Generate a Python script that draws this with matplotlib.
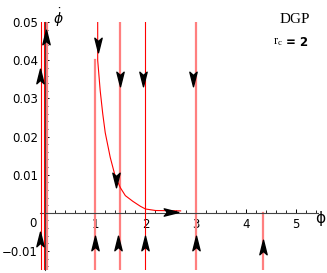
import numpy as np
import matplotlib.pyplot as plt
from matplotlib.path import Path

# vertical trajectories (x position, y start, y end)
pink_x = [0.04, 1.0, 1.5, 3.0, 4.33]
pink_top = [0.05, 0.040, 0.05, 0.05, 0.0]
red_x = [-0.08, -0.02, 2.0]
red_top = [0.05, 0.05, 0.05]
ybot = -0.015

# curved trajectory
curve_x = [1.05, 1.05, 1.1, 1.15, 1.2, 1.3, 1.4, 1.5, 1.6, 1.75, 1.9, 2.0, 2.2, 2.7]
curve_y = [0.05, 0.040, 0.032, 0.026, 0.021, 0.0145, 0.0095, 0.0066, 0.0045,
           0.003, 0.0017, 0.001, 0.0006, 0.0005]

# arrow heads
up_x = [-0.09, 0.02, -0.09, 1.0, 1.45, 2.0, 3.0, 4.33]
up_y = [0.036, 0.046, -0.007, -0.008, -0.008, -0.008, -0.008, -0.009]
down_x = [1.05, 1.5, 1.95, 2.95, 1.42]
down_y = [0.044, 0.035, 0.035, 0.035, 0.0085]
right_x = [2.5]
right_y = [0.0003]

xticks = [1, 2, 3, 4, 5]
yticks = [-0.01, 0.01, 0.02, 0.03, 0.04, 0.05]
yticklabels = ['\u22120.01', '0.01', '0.02', '0.03', '0.04', '0.05']

def head(angle):
    v = np.array([(0, 1), (-0.5, -1), (0, -0.55), (0.5, -1), (0, 1)])
    a = np.deg2rad(angle)
    r = np.array([[np.cos(a), -np.sin(a)], [np.sin(a), np.cos(a)]])
    return Path(v @ r.T, [1, 2, 2, 2, 79])

fig = plt.figure(figsize=(3.27, 2.73), dpi=100)
ax = fig.add_axes([0.122, 0.011, 0.85, 0.908])
ax.set_xlim(-0.1, 5.43)
ax.set_ylim(ybot, 0.05)

for x, t in zip(pink_x, pink_top):
    ax.plot([x, x], [ybot, t], color='#ff7f7f', lw=1.6, zorder=2)
for x, t in zip(red_x, red_top):
    ax.plot([x, x], [ybot, t], color='red', lw=0.8, zorder=3)
ax.plot(curve_x, curve_y, color='red', lw=0.8, zorder=3)

for xs, ys, ang in [(up_x, up_y, 0), (down_x, down_y, 180), (right_x, right_y, -90)]:
    ax.scatter(xs, ys, marker=head(ang), s=110, color='black', zorder=5,
               clip_on=False)

for s in ['top', 'right']:
    ax.spines[s].set_visible(False)
ax.spines['left'].set_position(('data', 0))
ax.spines['bottom'].set_position(('data', 0))
for s in ['left', 'bottom']:
    ax.spines[s].set_linewidth(0.8)
    ax.spines[s].set_color('#444444')

ax.set_xticks(xticks)
ax.set_xticks(np.arange(0.2, 5.41, 0.2), minor=True)
ax.set_yticks(yticks)
ax.set_yticklabels(yticklabels)
ax.set_yticks(np.arange(-0.014, 0.05, 0.002), minor=True)
ax.tick_params(direction='in', length=3, width=0.7, labelsize=8.5, pad=4)
ax.tick_params(which='minor', direction='in', length=2, width=0.6)
ax.tick_params(axis='y', pad=5)

ax.text(-0.23, -0.0012, '0', fontsize=8.5, ha='center', va='top')
ax.text(5.48, -0.0015, '\u03d5', fontsize=11, ha='center', va='center')
ax.text(0.27, 0.0512, r'$\dot{\phi}$', fontsize=10, ha='center', va='center')
ax.text(0.9, 0.93, 'DGP', transform=fig.transFigure, family='Liberation Serif',
        fontsize=11, ha='center', va='center')
ax.text(0.835, 0.845, r'$\mathregular{r_c}$', transform=fig.transFigure,
        family='Liberation Serif', fontsize=9, ha='left', va='center')
ax.text(0.875, 0.845, '= 2', transform=fig.transFigure, fontsize=8.5,
        fontweight='bold', ha='left', va='center')

fig.savefig('out.png', dpi=100)
